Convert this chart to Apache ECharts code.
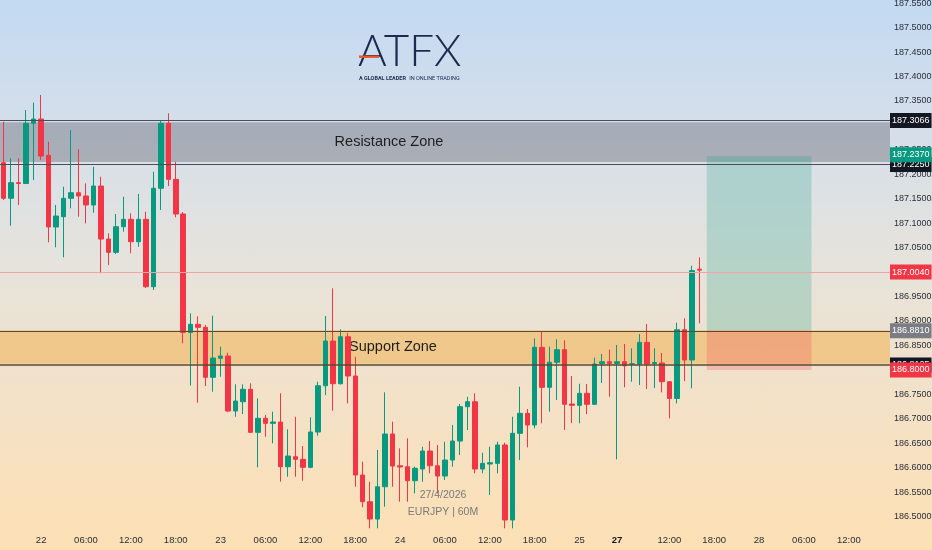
<!DOCTYPE html>
<html><head><meta charset="utf-8">
<script src="https://cdn.jsdelivr.net/npm/echarts@6/dist/echarts.min.js"></script>
<style>
html,body{margin:0;padding:0;}
#c{width:932px;height:550px;background:linear-gradient(to bottom,#c3daf2 0%,#d6dfe9 25%,#e6e3dc 48%,#f3e1c8 72%,#fde0b4 100%);}
</style>
</head><body><div id="c"></div>
<script>
// ---- data (EURJPY 60M) ----
const opens = [187.2237,187.1509,187.1828,187.1811,187.3042,187.3130,187.2388,187.0922,187.1132,187.1509,
187.1623,187.1556,187.1372,187.1760,187.0676,187.0404,187.0928,187.1079,187.0621,187.1079,
186.9701,187.1713,187.3042,187.1897,187.1188,186.8768,186.8932,186.8871,186.7848,186.8237,
186.8284,186.7159,186.7349,186.7603,186.6723,186.7010,186.6907,186.6934,186.6020,186.6224,
186.6171,186.6008,186.6730,186.7676,186.8590,186.7717,186.8678,186.7875,186.5850,186.5304,
186.4950,186.5611,186.6689,186.6040,186.6020,186.5734,186.5973,186.6341,186.6040,186.5830,
186.6157,186.6545,186.7247,186.7349,186.5973,186.6075,186.6089,186.6464,186.4930,186.6703,
186.7112,186.6873,186.8462,186.7644,186.8155,186.8413,186.7302,186.7276,186.7521,186.7296,
186.8130,186.8167,186.8130,186.8167,186.8114,186.8120,186.8564,186.8130,186.8141,186.7758,
186.7415,186.8822,186.8202,187.0060];
const closes = [187.1509,187.1828,187.1811,187.3042,187.3130,187.2374,187.0922,187.1147,187.1509,187.1623,
187.1556,187.1372,187.1760,187.0676,187.0404,187.0928,187.1079,187.0621,187.1079,186.9701,
187.1713,187.3042,187.1897,187.1188,186.8768,186.8932,186.8871,186.7848,186.8243,186.8284,
186.7159,186.7363,186.7603,186.6723,186.7010,186.6907,186.6934,186.6020,186.6239,186.6171,
186.6008,186.6730,186.7676,186.8590,186.7717,186.8678,186.7875,186.5850,186.5304,186.4950,
186.5611,186.6689,186.6034,186.6014,186.5734,186.5987,186.6341,186.6040,186.5830,186.6157,
186.6545,186.7247,186.7349,186.5973,186.6089,186.6102,186.6464,186.4930,186.6703,186.7112,
186.6873,186.8462,186.7644,186.8155,186.8413,186.7296,186.7276,186.7521,186.7296,186.8120,
186.8167,186.8130,186.8167,186.8085,186.8126,186.8564,186.8120,186.8151,186.7758,186.7415,
186.8822,186.8202,187.0030,187.0040];
const lows = [187.1474,187.0948,187.1372,187.1801,187.1883,187.2292,187.0609,187.0507,187.0302,187.1304,
187.1132,187.0997,187.1214,186.9975,187.0145,187.0370,187.0826,187.0384,187.0519,186.9674,
186.9633,187.1269,187.1760,187.1120,186.8543,186.7680,186.7329,186.7670,186.7554,186.7860,
186.7139,186.7042,186.7098,186.6709,186.6008,186.6633,186.6498,186.5713,186.5815,186.5815,
186.5734,186.5990,186.6654,186.7486,186.7165,186.7700,186.7316,186.5611,186.5190,186.4760,
186.4760,186.5202,186.5611,186.5304,186.5304,186.5476,186.5713,186.5885,186.5476,186.5748,
186.6020,186.6259,186.6770,186.5885,186.5885,186.5441,186.5885,186.4760,186.4760,186.6157,
186.6417,186.6805,186.6907,186.7145,186.7384,186.6770,186.6914,186.6907,186.7098,186.7282,
186.7732,186.7451,186.6171,186.7644,186.7758,186.7691,186.7609,186.7629,186.7541,186.7010,
186.7316,186.7772,186.7623,186.8952];
const highs = [187.3075,187.2327,187.2327,187.3314,187.3464,187.3621,187.2666,187.1372,187.1746,187.2905,
187.2511,187.1815,187.2155,187.1950,187.0793,187.1188,187.1541,187.1202,187.1597,187.1235,
187.2053,187.3110,187.3247,187.2257,187.1229,186.9157,186.9096,186.8918,186.9108,186.8474,
186.8351,186.7705,186.7705,186.7725,186.7419,186.7077,186.7145,186.7521,186.6785,186.7042,
186.6443,186.7030,186.7758,186.9102,186.9668,186.8830,186.8760,186.8269,186.6122,186.5713,
186.6361,186.7541,186.6940,186.6396,186.6601,186.6020,186.6429,186.6545,186.6464,186.6531,
186.6873,186.7302,186.7451,186.7521,186.6306,186.6429,186.6531,186.6511,186.7042,186.7656,
186.7200,186.8646,186.8781,186.8474,186.8625,186.8605,186.7875,186.7717,186.7711,186.8249,
186.8325,186.8413,186.8509,186.8529,186.8441,186.8734,186.8938,186.8441,186.8345,186.7772,
186.8965,186.9055,187.0130,187.0302];

const barSlots = 119; // hourly slots shown on the time scale (incl. empty future)
const xTickIndex = [5,11,17,23,29,35,41,47,53,59,65,71,77,82,89,95,101,107,113];
const xTickText = ['22','06:00','12:00','18:00','23','06:00','12:00','18:00','24','06:00','12:00','18:00','25','27','12:00','18:00','28','06:00','12:00'];
const yTickValues = [186.50,186.55,186.60,186.65,186.70,186.75,186.80,186.85,186.90,186.95,187.00,
187.05,187.10,187.15,187.20,187.25,187.30,187.35,187.40,187.45,187.50,187.55];
const yRange = [186.4726, 187.5564];

const resistanceZone = [187.2250, 187.3066];
const supportZone = [186.8125, 186.8810];
const lastPrice = 187.0040;
const longEntry = 186.8810, longTarget = 187.2370, longStop = 186.8000;
const longFrom = 94, longTo = 108;

// ---- chart ----
const GREEN = '#089981', RED = '#f23645';
const FONT = '"Liberation Sans Narrow","Liberation Sans",Arial,sans-serif';
const cats = Array.from({length: barSlots}, (_, i) => String(i));
const tickMap = {};
xTickIndex.forEach((k, j) => { tickMap[k] = xTickText[j]; });
const candles = opens.map((o, i) => [o, closes[i], lows[i], highs[i]]);

function tag(v, bg) {
  return { yAxis: v, label: { backgroundColor: bg, formatter: v.toFixed(4) } };
}

const chart = echarts.init(document.getElementById('c'));
chart.setOption({
  animation: false,
  backgroundColor: 'transparent',
  grid: { left: 0, right: 42, top: 0, bottom: 20, containLabel: false, outerBoundsMode: 'none' },
  xAxis: {
    type: 'category', data: cats, boundaryGap: true,
    axisLine: { show: false }, axisTick: { show: false }, splitLine: { show: false },
    axisLabel: {
      interval: 0, margin: 5, fontSize: 9.5, color: '#2a2e39', fontFamily: FONT,
      formatter: (v, i) => tickMap[i] === '27' ? '{b|27}' : (tickMap[i] || ''),
      rich: { b: { fontWeight: 'bold', fontSize: 9.5, fontFamily: FONT, color: '#131722' } }
    }
  },
  yAxis: {
    type: 'value', position: 'right', min: yRange[0], max: yRange[1],
    splitLine: { show: false }, axisLine: { show: false }, axisTick: { show: false },
    axisLabel: {
      customValues: yTickValues, margin: 4, fontSize: 9, color: '#2a2e39', fontFamily: FONT,
      formatter: v => v.toFixed(4)
    }
  },
  series: [
    {
      type: 'line', data: [], z: 1, silent: true,
      markArea: {
        silent: true,
        data: [
          [{ yAxis: resistanceZone[1], itemStyle: { color: 'rgba(110,114,124,0.45)' },
             label: { show: true, position: 'inside', offset: [-56, 0], formatter: 'Resistance Zone',
                      fontSize: 14.5, color: '#1e1e1e', fontFamily: FONT } },
           { yAxis: resistanceZone[0] }],
          [{ yAxis: supportZone[1], itemStyle: { color: 'rgba(240,172,66,0.48)' },
             label: { show: true, position: 'inside', offset: [-52, 0], formatter: 'Support Zone',
                      fontSize: 14.5, color: '#1e1e1e', fontFamily: FONT } },
           { yAxis: supportZone[0] }],
          [{ xAxis: longFrom, yAxis: longTarget, itemStyle: { color: 'rgba(8,153,129,0.22)' } },
           { xAxis: longTo, yAxis: longEntry }],
          [{ xAxis: longFrom, yAxis: longEntry, itemStyle: { color: 'rgba(242,54,69,0.22)' } },
           { xAxis: longTo, yAxis: longStop }]
        ]
      },
      markLine: {
        silent: true, symbol: 'none', label: { show: false },
        data: [
          { yAxis: resistanceZone[1], lineStyle: { color: '#4a4e58', width: 1, type: 'solid' } },
          { yAxis: resistanceZone[0], lineStyle: { color: '#4a4e58', width: 1, type: 'solid' } },
          { yAxis: supportZone[1], lineStyle: { color: '#5a4a30', width: 1, type: 'solid' } },
          { yAxis: supportZone[0], lineStyle: { color: '#5a4a30', width: 1.6, type: 'solid' } },
          { yAxis: lastPrice, lineStyle: { color: '#f2a3a6', width: 1, type: 'solid' } }
        ]
      }
    },
    {
      type: 'candlestick', data: candles, z: 3, barWidth: 5,
      itemStyle: { color: GREEN, color0: RED, borderColor: GREEN, borderColor0: RED, borderWidth: 1 }
    },
    {
      type: 'line', data: [], z: 6, clip: false, silent: true,
      markLine: {
        silent: true, symbol: 'none',
        lineStyle: { color: 'transparent', width: 0 },
        label: { show: true, position: 'end', distance: 0, color: '#ffffff', fontSize: 9,
                 fontFamily: FONT, padding: [3, 2, 3, 2] },
        data: [
          tag(resistanceZone[1], '#131722'),
          tag(resistanceZone[0], '#131722'),
          tag(supportZone[1], '#7b7d84'),
          tag(supportZone[0], '#131722'),
          tag(lastPrice, RED),
          tag(longTarget, GREEN),
          tag(longStop, RED)
        ]
      }
    }
  ],
  graphic: [
    { type: 'text', z: 10, style: { x: 358, y: 52, text: 'ATFX', font: '300 44px Lato, "Open Sans", sans-serif',
      fill: '#1d2a4d', verticalAlign: 'middle', align: 'left' } },
    { type: 'rect', z: 11, shape: { x: 359, y: 55.5, width: 20, height: 2.4 }, style: { fill: '#e8552a' } },
    { type: 'text', z: 10, style: { x: 359, y: 79, verticalAlign: 'middle', align: 'left',
      text: '{b|A GLOBAL LEADER} {r|IN ONLINE TRADING}',
      rich: { b: { fontSize: 5.5, fontWeight: 'bold', fill: '#1d2a4d', fontFamily: 'Roboto' },
              r: { fontSize: 5.5, fill: '#1d2a4d', fontFamily: 'Roboto' } } } },
    { type: 'text', z: 10, style: { x: 443, y: 495, text: '27/4/2026', align: 'center', verticalAlign: 'middle',
      fontSize: 10.5, fontFamily: FONT, fill: '#7a7a7a' } },
    { type: 'text', z: 10, style: { x: 443, y: 512, text: 'EURJPY | 60M', align: 'center', verticalAlign: 'middle',
      fontSize: 10.5, fontFamily: FONT, fill: '#7a7a7a' } }
  ]
});
</script>
</body></html>
